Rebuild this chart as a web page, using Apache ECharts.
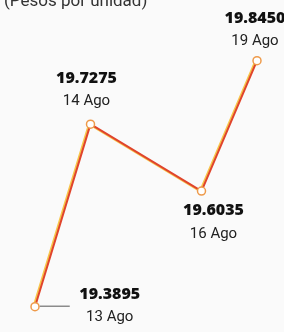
<!DOCTYPE html>
<html>
<head>
<meta charset="utf-8">
<script src="https://cdn.jsdelivr.net/npm/echarts@6/dist/echarts.min.js"></script>
<style>
  html, body {margin: 0; padding: 0; background: #fafafa;}
  #main {width: 284px; height: 332px;}
</style>
</head>
<body>
<div id="main"></div>
<script>
// business days only (15 Ago has no published value)
const days = ['13 Ago', '14 Ago', '15 Ago', '16 Ago', '19 Ago'];
const rates = [19.3895, 19.7275, null, 19.6035, 19.8450];
const valueLabels = ['19.3895', '19.7275', '', '19.6035', '19.8450'];

// label placement per point: position + offset
const labelLayout = [
    {position: 'right', distance: 0, offset: [0, 0]},
    {position: 'top', distance: 6, offset: [-4, 0]},
    null,
    {position: 'bottom', distance: 4, offset: [12, 0]},
    {position: 'top', distance: 3, offset: [-2, 0]},
];

const numFont = '"Open Sans"';
const dateFont = 'Roboto, sans-serif';

const richStyles = {
    n: {fontFamily: numFont, fontWeight: 800, fontSize: 16, color: '#111', lineHeight: 22, align: 'center'},
    d: {fontFamily: dateFont, fontSize: 15, color: '#222', lineHeight: 24, align: 'center'},
    pad: {width: 38, height: 1},
    lead: {width: 30, height: 1, backgroundColor: '#555', verticalAlign: 'top'},
    gap: {width: 8, height: 1},
    nl: {fontFamily: numFont, fontWeight: 800, fontSize: 16, color: '#111', lineHeight: 22, width: 64, align: 'center'},
    dl: {fontFamily: dateFont, fontSize: 15, color: '#222', lineHeight: 24, width: 64, align: 'center'},
};

const seriesData = rates.map((v, i) => {
    const item = {value: v};
    const lay = labelLayout[i];
    if (lay) {
        const first = i === 0;
        item.label = {
            show: true,
            position: lay.position,
            distance: lay.distance,
            offset: lay.offset,
            formatter: first
                ? '{pad|}{nl|' + valueLabels[i] + '}\n{lead|}{gap|}{dl|' + days[i] + '}'
                : '{n|' + valueLabels[i] + '}\n{d|' + days[i] + '}',
            rich: richStyles,
        };
    }
    return item;
});

const chart = echarts.init(document.getElementById('main'));
chart.setOption({
    backgroundColor: '#fafafa',
    animation: false,
    title: {
        text: '(Pesos por unidad)',
        left: -1,
        top: -12,
        textStyle: {fontFamily: 'Roboto', fontWeight: 'normal', fontSize: 17, color: '#333'},
    },
    grid: {left: 35, right: 27, top: 31, bottom: 4},
    xAxis: {
        type: 'category',
        data: days,
        boundaryGap: false,
        show: false,
    },
    yAxis: {
        type: 'value',
        min: 19.35,
        max: 19.9,
        show: false,
    },
    series: [{
        type: 'line',
        data: seriesData,
        connectNulls: true,
        symbol: 'circle',
        symbolSize: 8,
        itemStyle: {color: '#fff', borderColor: '#ee9a4a', borderWidth: 1.5},
        lineStyle: {
            color: '#e0442c',
            width: 2,
            shadowColor: '#f7c64a',
            shadowBlur: 0,
            shadowOffsetX: -1.5,
        },
        label: {show: false},
        z: 3,
    }],
});
</script>
</body>
</html>
